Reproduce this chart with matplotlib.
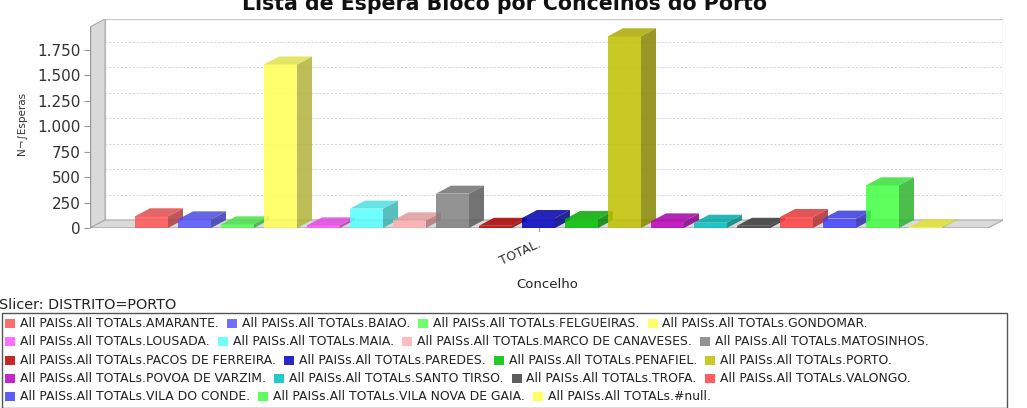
import matplotlib
matplotlib.use("Agg")
import matplotlib.pyplot as plt
from matplotlib.patches import Polygon, Rectangle
from matplotlib.colors import to_rgb

# ---------------- data ----------------
title = "Lista de Espera Bloco por Concelhos do Porto"
category = "TOTAL."
concelhos = ["AMARANTE", "BAIAO", "FELGUEIRAS", "GONDOMAR", "LOUSADA", "MAIA",
             "MARCO DE CANAVESES", "MATOSINHOS", "PACOS DE FERREIRA", "PAREDES",
             "PENAFIEL", "PORTO", "POVOA DE VARZIM", "SANTO TIRSO", "TROFA",
             "VALONGO", "VILA DO CONDE", "VILA NOVA DE GAIA", "#null"]
values = [115, 85, 36, 1605, 26, 190, 75, 337, 22, 98, 88, 1882, 65, 52, 22,
          108, 92, 419, 8]
colors = ["#FF5555", "#5555FF", "#55FF55", "#FFFF55", "#FF55FF", "#55FFFF",
          "#FFAFAF", "#808080", "#C00000", "#0000C0", "#00C000", "#C0C000",
          "#C000C0", "#00C0C0", "#404040", "#FF4040", "#4040FF", "#40FF40",
          "#FFFF40"]
yticks = [0, 250, 500, 750, 1000, 1250, 1500, 1750]
ytick_labels = ["0", "250", "500", "750", "1.000", "1.250", "1.500", "1.750"]
legend_rows = [[0, 1, 2, 3], [4, 5, 6, 7], [8, 9, 10, 11], [12, 13, 14, 15], [16, 17, 18]]
legend_prefix = "All PAISs.All TOTALs."
ylabel = "N¬∫Esperas"
xlabel = "Concelho"
slicer = "Slicer: DISTRITO=PORTO"

# ---------------- layout (pixels) ----------------
W, H = 1027, 408
DPI = 100
fig = plt.figure(figsize=(W / DPI, H / DPI), dpi=DPI)
fig.patch.set_facecolor("white")

def fx(x):
    return x / W

def fy(y):
    return 1 - y / H

ax_left, ax_right, ax_top, ax_bottom = 90, 1003, 19, 228
first_center, slot = 151.5, 43.0
bar_w_px = 33.0
depth_x_px, depth_y_px = 15.0, 8.0
px_per_unit = 25.47 / 250.0
front_right_px = 988

ax = fig.add_axes([fx(ax_left), fy(ax_bottom), (ax_right - ax_left) / W,
                   (ax_bottom - ax_top) / H])
x0 = (ax_left - first_center) / slot
x1 = (ax_right - first_center) / slot
xf = (front_right_px - first_center) / slot
ytop = (ax_bottom - ax_top) / px_per_unit
ddx = depth_x_px / slot
ddy = depth_y_px / px_per_unit
bw = bar_w_px / slot

ax.set_xlim(x0, x1)
ax.set_ylim(0, ytop)
for s in ax.spines.values():
    s.set_visible(False)
ax.set_facecolor("none")
ax.set_xticks([])
ax.set_yticks(yticks)
ax.set_yticklabels(ytick_labels, fontsize=11, color="#333333")
ax.tick_params(axis="y", length=4, width=0.8, color="#999999", pad=3)

# walls
wall_col = "#DADADA"
edge_col = "#AAAAAA"
ax.add_patch(Rectangle((x0 + ddx, ddy), xf - x0, ytop - ddy, facecolor="white",
                       edgecolor="#CCCCCC", lw=1.0, zorder=0.5))
ax.add_patch(Polygon([(x0, 0), (x0 + ddx, ddy), (x0 + ddx, ytop), (x0, ytop - ddy)],
                     closed=True, facecolor=wall_col, edgecolor=edge_col, lw=0.8, zorder=1))
ax.add_patch(Polygon([(x0, 0), (xf, 0), (xf + ddx, ddy), (x0 + ddx, ddy)],
                     closed=True, facecolor=wall_col, edgecolor=edge_col, lw=0.8, zorder=1))
for v in yticks[1:]:
    ax.plot([x0 + ddx, xf + ddx], [v + ddy, v + ddy], color="#D4D4D4", lw=0.7,
            ls=(0, (2, 2)), zorder=0.8)
ax.plot([x0, x0], [0, ytop - ddy], color="#999999", lw=1.0, zorder=1.2)
ax.plot([x0, xf], [0, 0], color="#999999", lw=1.0, zorder=1.2)


def darker(c, f=0.7):
    r, g, b = to_rgb(c)
    return (r * f, g * f, b * f)

alpha = 0.85
for i, (v, c) in enumerate(zip(values, colors)):
    z = 3 + i * 0.1
    l, r = i - bw / 2, i + bw / 2
    ax.bar(i, v, width=bw, color=c, alpha=alpha, zorder=z, linewidth=0)
    ax.add_patch(Polygon([(r, 0), (r + ddx, ddy), (r + ddx, v + ddy), (r, v)],
                         closed=True, facecolor=darker(c), alpha=alpha, lw=0, zorder=z))
    ax.add_patch(Polygon([(l, v), (l + ddx, v + ddy), (r + ddx, v + ddy), (r, v)],
                         closed=True, facecolor=darker(c, 0.88), alpha=alpha, lw=0, zorder=z))

# category tick
cat_x = (x0 + xf) / 2
ax.plot([cat_x, cat_x], [0, -2.5 / px_per_unit], color="#999999", lw=0.8,
        clip_on=False, zorder=2)

# ---------------- texts ----------------
fig.text(fx(505), fy(10.5), title, ha="center", va="baseline", fontsize=14.8,
         fontweight="bold", color="#111111")
fig.text(fx(22), fy(123), ylabel, rotation=90, ha="center", va="center",
         fontsize=7.5, color="#333333")
fig.text(fx(520), fy(253), category, rotation=25, ha="center", va="center",
         fontsize=9, color="#333333")
fig.text(fx(547), fy(284), xlabel, ha="center", va="center", fontsize=9.5,
         color="#222222")
fig.text(fx(-1), fy(305), slicer, ha="left", va="center", fontsize=10.4,
         color="#222222")

# legend box
fig.patches.append(Rectangle((fx(2), fy(407.5)), (1007 - 2) / W, (407.5 - 313) / H,
                             transform=fig.transFigure, facecolor="white",
                             edgecolor="#555555", lw=1.0, zorder=1))
renderer = fig.canvas.get_renderer()
row_y0, row_step = 323.5, 18.3
for r, row in enumerate(legend_rows):
    y = row_y0 + r * row_step
    x = 5.0
    for idx in row:
        fig.patches.append(Rectangle((fx(x), fy(y + 4.5)), 10 / W, 9 / H,
                                     transform=fig.transFigure, facecolor=colors[idx],
                                     alpha=alpha, lw=0, zorder=2))
        t = fig.text(fx(x + 15), fy(y), legend_prefix + concelhos[idx] + ".",
                     ha="left", va="center", fontsize=8.9, color="#222222", zorder=3)
        w = t.get_window_extent(renderer).width
        x = x + 15 + w + 8

fig.savefig("out.png", dpi=DPI, facecolor="white")
